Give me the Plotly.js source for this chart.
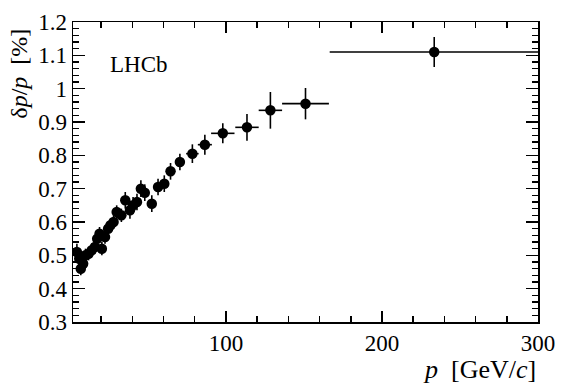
<!DOCTYPE html>
<html>
<head>
<meta charset="utf-8">
<script src="https://cdn.plot.ly/plotly-3.0.1.min.js"></script>
<style>
  html, body { margin: 0; padding: 0; background: #fff; }
  #chart { width: 567px; height: 384px; }
</style>
</head>
<body>
<div id="chart"></div>
<script>
// momentum bin centres [GeV/c] and half widths
const p = [4.5, 6, 7, 8.5, 10, 12, 14, 16, 17.5, 19, 20.5, 22.5, 24.5, 26, 28, 30, 33, 35.5, 38.5, 40.5,
  43, 45.5, 48, 52.5, 56.5, 60.5, 64.5, 70.5, 78.5, 86.5, 98, 113.5, 128.5, 151, 233.5];
const pErr = [1, 0.8, 0.8, 0.8, 1, 1, 1, 1, 0.8, 0.8, 0.8, 1, 1, 1, 1, 1, 1.5, 1.2, 1.2, 1.2,
  1.2, 1.2, 1.5, 2, 2, 2, 2.5, 3, 4, 4.5, 7.5, 7.5, 7.5, 15, 67];
// relative momentum resolution [%]
const res = [0.51, 0.49, 0.46, 0.475, 0.50, 0.505, 0.515, 0.525, 0.55, 0.565, 0.52, 0.555, 0.58, 0.59, 0.60,
  0.63, 0.62, 0.665, 0.635, 0.65, 0.66, 0.70, 0.688, 0.655, 0.705, 0.715, 0.752, 0.78, 0.805, 0.832,
  0.866, 0.884, 0.935, 0.955, 1.11];
const resErr = [0.025, 0.025, 0.02, 0.02, 0.02, 0.02, 0.02, 0.02, 0.02, 0.02, 0.02, 0.02, 0.02, 0.02, 0.02,
  0.02, 0.02, 0.025, 0.025, 0.025, 0.025, 0.025, 0.025, 0.025, 0.025, 0.025, 0.025, 0.025, 0.028, 0.03,
  0.03, 0.04, 0.055, 0.047, 0.045];

const xRange = [2, 300];
const yRange = [0.3, 1.2];
const serif = 'Liberation Serif';

const trace = {
  x: p,
  y: res,
  mode: 'markers',
  type: 'scatter',
  marker: { color: '#000', size: 10.5 },
  error_x: { type: 'data', array: pErr, visible: true, color: '#000', thickness: 1.6, width: 0 },
  error_y: { type: 'data', array: resErr, visible: true, color: '#000', thickness: 1.6, width: 0 },
  showlegend: false
};

// empty trace so the mirrored top/right axes get drawn with their own ticks
const mirrorTrace = { x: [], y: [], xaxis: 'x2', yaxis: 'y2', type: 'scatter', showlegend: false, hoverinfo: 'skip' };

const axisCommon = {
  showgrid: false,
  zeroline: false,
  showline: true,
  linecolor: '#000',
  linewidth: 1.5,
  ticks: 'inside',
  tickcolor: '#000',
  tickwidth: 1.5,
  tickfont: { family: serif, size: 23, color: '#000' }
};

const xTicks = { tickvals: [100, 200, 300], ticklen: 11,
  minor: { dtick: 20, tick0: 0, ticks: 'inside', ticklen: 6, tickcolor: '#000', tickwidth: 1.5 } };
const yTicks = { dtick: 0.1, tick0: 0.3, ticklen: 12,
  minor: { dtick: 0.02, tick0: 0.3, ticks: 'inside', ticklen: 6, tickcolor: '#000', tickwidth: 1.5 } };

const layout = {
  width: 567,
  height: 384,
  margin: { l: 73, r: 29, t: 22, b: 62 },
  paper_bgcolor: '#fff',
  plot_bgcolor: '#fff',
  font: { family: serif },
  xaxis: Object.assign({}, axisCommon, xTicks, { range: xRange }),
  yaxis: Object.assign({}, axisCommon, yTicks, { range: yRange, ticklabelstandoff: 0 }),
  xaxis2: Object.assign({}, axisCommon, xTicks, { range: xRange, overlaying: 'x', side: 'top', showticklabels: false }),
  yaxis2: Object.assign({}, axisCommon, yTicks, { range: yRange, overlaying: 'y', side: 'right', showticklabels: false }),
  annotations: [
    {
      text: 'LHCb', xref: 'paper', yref: 'paper', x: 0.075, y: 0.86,
      xanchor: 'left', yanchor: 'middle', showarrow: false,
      font: { family: serif, size: 23, color: '#000' }
    },
    {
      text: '<i>p</i>  [GeV/<i>c</i>]', xref: 'paper', yref: 'paper', x: 1.0, y: -0.157,
      xanchor: 'right', yanchor: 'middle', showarrow: false,
      font: { family: serif, size: 26, color: '#000' }
    },
    {
      text: 'δ<i>p</i>/<i>p</i>  [%]', xref: 'paper', yref: 'paper', x: -0.118, y: 0.985,
      xanchor: 'center', yanchor: 'top', showarrow: false, textangle: -90,
      font: { family: serif, size: 24, color: '#000' }
    }
  ]
};

Plotly.newPlot('chart', [trace, mirrorTrace], layout, { displayModeBar: false, staticPlot: true });
</script>
</body>
</html>
